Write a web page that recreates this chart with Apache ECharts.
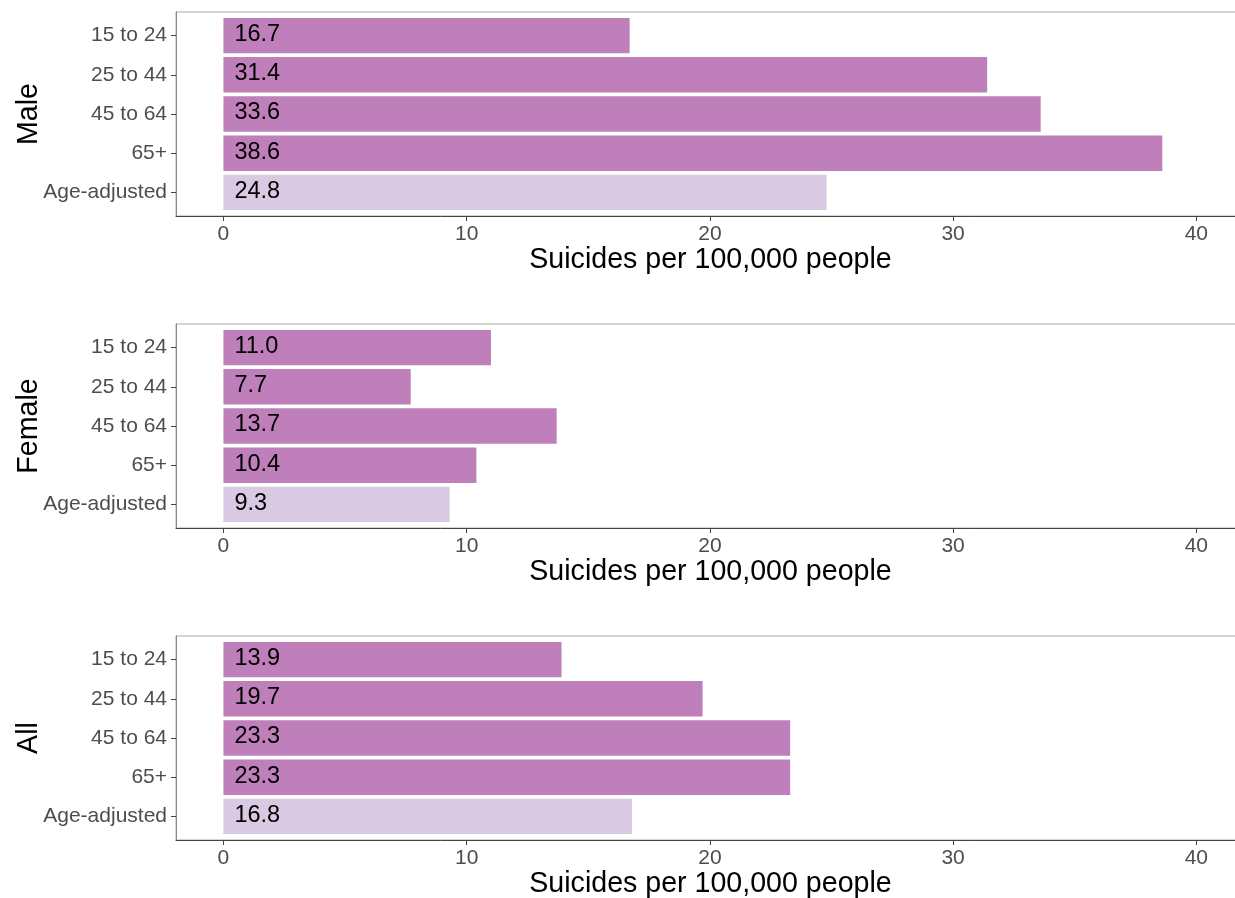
<!DOCTYPE html>
<html>
<head>
<meta charset="utf-8">
<script src="https://cdn.jsdelivr.net/npm/echarts@6/dist/echarts.min.js"></script>
<style>
html,body{margin:0;padding:0;background:#fff;overflow:hidden;}
#chart{width:1235px;height:898px;}
</style>
</head>
<body>
<div id="chart"></div>
<script>
const categories = ['15 to 24', '25 to 44', '45 to 64', '65+', 'Age-adjusted'];
const panelNames = ['Male', 'Female', 'All'];
const maleValues = [16.7, 31.4, 33.6, 38.6, 24.8];
const femaleValues = [11.0, 7.7, 13.7, 10.4, 9.3];
const allValues = [13.9, 19.7, 23.3, 23.3, 16.8];
const xTicks = [0, 10, 20, 30, 40];
const xTitle = 'Suicides per 100,000 people';

const panelValues = [maleValues, femaleValues, allValues];
const FONT = '"Liberation Sans", Arial, sans-serif';
const PURPLE = '#BF7FBB';
const LIGHT = '#D9C9E3';

const chart = echarts.init(document.getElementById('chart'), null, {renderer: 'canvas'});

const grids = [], xAxes = [], yAxes = [], series = [];
panelValues.forEach((vals, i) => {
  grids.push({
    left: 176, width: 1069, top: 12 + 312 * i, height: 204,
    containLabel: false, outerBoundsMode: 'none',
    show: true, borderColor: '#AAAAAA', borderWidth: 1, backgroundColor: '#fff'
  });
  xAxes.push({
    type: 'value', gridIndex: i, min: -1.95, max: 42,
    name: xTitle, nameLocation: 'middle', nameGap: 30, nameMoveOverlap: false,
    nameTextStyle: {fontFamily: FONT, fontSize: 28.6, color: '#000'},
    axisLine: {show: true, onZero: false, lineStyle: {color: '#444', width: 1}},
    axisTick: {show: true, customValues: xTicks, length: 5, lineStyle: {color: '#444'}},
    axisLabel: {customValues: xTicks, margin: 8, fontFamily: FONT, fontSize: 21, color: '#4D4D4D'},
    splitLine: {show: false}
  });
  yAxes.push({
    type: 'value', gridIndex: i, min: 0.4, max: 5.6, inverse: true,
    name: panelNames[i], nameLocation: 'middle', nameGap: 132, nameRotate: 90, nameMoveOverlap: false,
    nameTextStyle: {fontFamily: FONT, fontSize: 28.6, color: '#000'},
    axisLine: {show: true, onZero: false, lineStyle: {color: '#888', width: 1}},
    axisTick: {show: true, customValues: [1, 2, 3, 4, 5], length: 5, lineStyle: {color: '#444'}},
    axisLabel: {
      customValues: [1, 2, 3, 4, 5], margin: 9, fontFamily: FONT, fontSize: 21, color: '#4D4D4D',
      formatter: v => categories[Math.round(v) - 1] || ''
    },
    splitLine: {show: false}
  });
  series.push({
    type: 'custom', xAxisIndex: i, yAxisIndex: i,
    data: vals.map((v, k) => [v, k + 1]),
    renderItem: function (params, api) {
      const v = api.value(0), pos = api.value(1);
      const p0 = api.coord([0, pos - 0.45]);
      const p1 = api.coord([v, pos + 0.45]);
      const pc = api.coord([0, pos]);
      const isAdj = pos === 5;
      return {
        type: 'group',
        children: [
          {type: 'rect', shape: {x: p0[0], y: p0[1], width: p1[0] - p0[0], height: p1[1] - p0[1]},
           style: {fill: isAdj ? LIGHT : PURPLE}},
          {type: 'text', x: pc[0] + 11, y: pc[1] - 1,
           style: {text: v.toFixed(1), fill: '#000', font: '23.5px ' + FONT,
                   textAlign: 'left', textVerticalAlign: 'middle'}}
        ]
      };
    }
  });
});

chart.setOption({
  animation: false,
  backgroundColor: '#fff',
  grid: grids, xAxis: xAxes, yAxis: yAxes, series: series
});
</script>
</body>
</html>
